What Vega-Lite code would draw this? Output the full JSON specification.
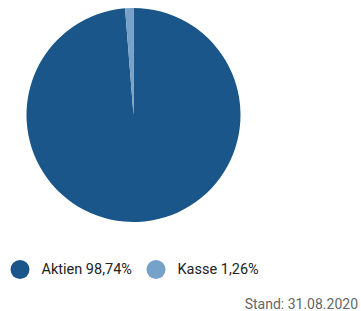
{
  "$schema": "https://vega.github.io/schema/vega-lite/v6.json",
  "width": 214,
  "height": 214,
  "autosize": {"type": "none"},
  "padding": {"left": 26.5, "top": 8, "right": 120.5, "bottom": 89},
  "background": "white",
  "data": {"values": [
    {"label": "Aktien 98,74%", "value": 98.74, "ord": 1},
    {"label": "Kasse 1,26%", "value": 1.26, "ord": 2}
  ]},
  "title": {
    "text": "Stand: 31.08.2020",
    "orient": "bottom",
    "anchor": "end",
    "dx": 98.5,
    "offset": 19,
    "font": "Roboto",
    "fontSize": 14,
    "fontWeight": "normal",
    "color": "#666666"
  },
  "mark": {"type": "arc", "stroke": null},
  "encoding": {
    "theta": {"field": "value", "type": "quantitative", "stack": true},
    "order": {"field": "ord", "type": "quantitative"},
    "color": {
      "field": "label",
      "type": "nominal",
      "scale": {"domain": ["Aktien 98,74%", "Kasse 1,26%"], "range": ["#1a5689", "#76a1c8"]},
      "legend": {
        "title": null,
        "orient": "none",
        "direction": "horizontal",
        "columns": 2,
        "legendX": -16,
        "legendY": 252,
        "padding": 0,
        "symbolType": "circle",
        "symbolSize": 361,
        "symbolStrokeWidth": 0,
        "labelOffset": 12,
        "columnPadding": 14,
        "labelFont": "Roboto",
        "labelFontSize": 14.5,
        "labelColor": "#222222",
        "labelLimit": 300
      }
    }
  },
  "config": {"view": {"stroke": null}}
}
